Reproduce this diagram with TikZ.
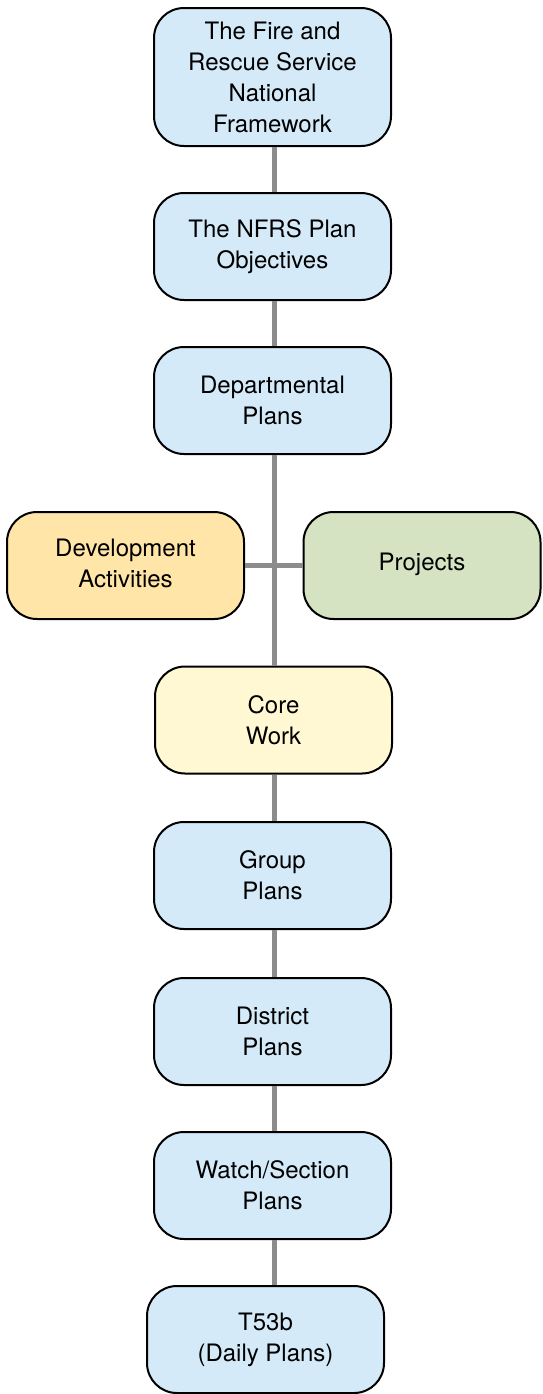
\documentclass[tikz,border=0pt]{standalone}
\usepackage{fontspec}
\setmainfont{TeX Gyre Heros}
\definecolor{planblue}{HTML}{D5EAF8}
\definecolor{devorange}{HTML}{FFE5A8}
\definecolor{projgreen}{HTML}{D5E3C3}
\definecolor{coreyellow}{HTML}{FFF8D2}
\definecolor{linkgrey}{HTML}{8C8C8C}
\begin{document}
\begin{tikzpicture}[x=0.5pt,y=-0.5pt,
    box/.style={draw=black,line width=1pt,rounded corners=15pt,fill=planblue,
      minimum width=118.5pt,minimum height=53.5pt,align=center,
      font=\fontsize{12}{15.5}\selectfont},
    link/.style={draw=linkgrey,line width=2.5pt}]
        \useasboundingbox (0,0) rectangle (542,1394);
        \node[box,minimum height=69pt] (NF) at (272.5,77) {The Fire and\\Rescue Service\\National\\Framework};
        \node[box] (Obj) at (272.5,246.5) {The NFRS Plan\\Objectives};
        \node[box] (Dept) at (272.5,400.5) {Departmental\\Plans};
        \node[box,fill=devorange,text depth=2pt] (Dev) at (125.5,565.5) {Development\\Activities};
        \node[box,fill=projgreen,text depth=4pt] (Proj) at (422,565.5) {Projects};
        \node[box,fill=coreyellow] (Core) at (273.5,720) {Core\\Work};
        \node[box] (Group) at (272.5,875.5) {Group\\Plans};
        \node[box] (Dist) at (272.5,1031.5) {District\\Plans};
        \node[box] (Watch) at (272.5,1185.5) {Watch/Section\\Plans};
        \node[box] (T53b) at (265.5,1339.5) {T53b\\(Daily Plans)};
        \coordinate (spine) at (274,0);
        \draw[link] (spine |- NF.south) -- (spine |- Obj.north);
        \draw[link] (spine |- Obj.south) -- (spine |- Dept.north);
        \draw[link] (spine |- Dept.south) -- (spine |- Core.north);
        \draw[link] (Dev) -- (Proj);
        \draw[link] (spine |- Core.south) -- (spine |- Group.north);
        \draw[link] (spine |- Group.south) -- (spine |- Dist.north);
        \draw[link] (spine |- Dist.south) -- (spine |- Watch.north);
        \draw[link] (spine |- Watch.south) -- (spine |- T53b.north);
      \end{tikzpicture}
\end{document}
